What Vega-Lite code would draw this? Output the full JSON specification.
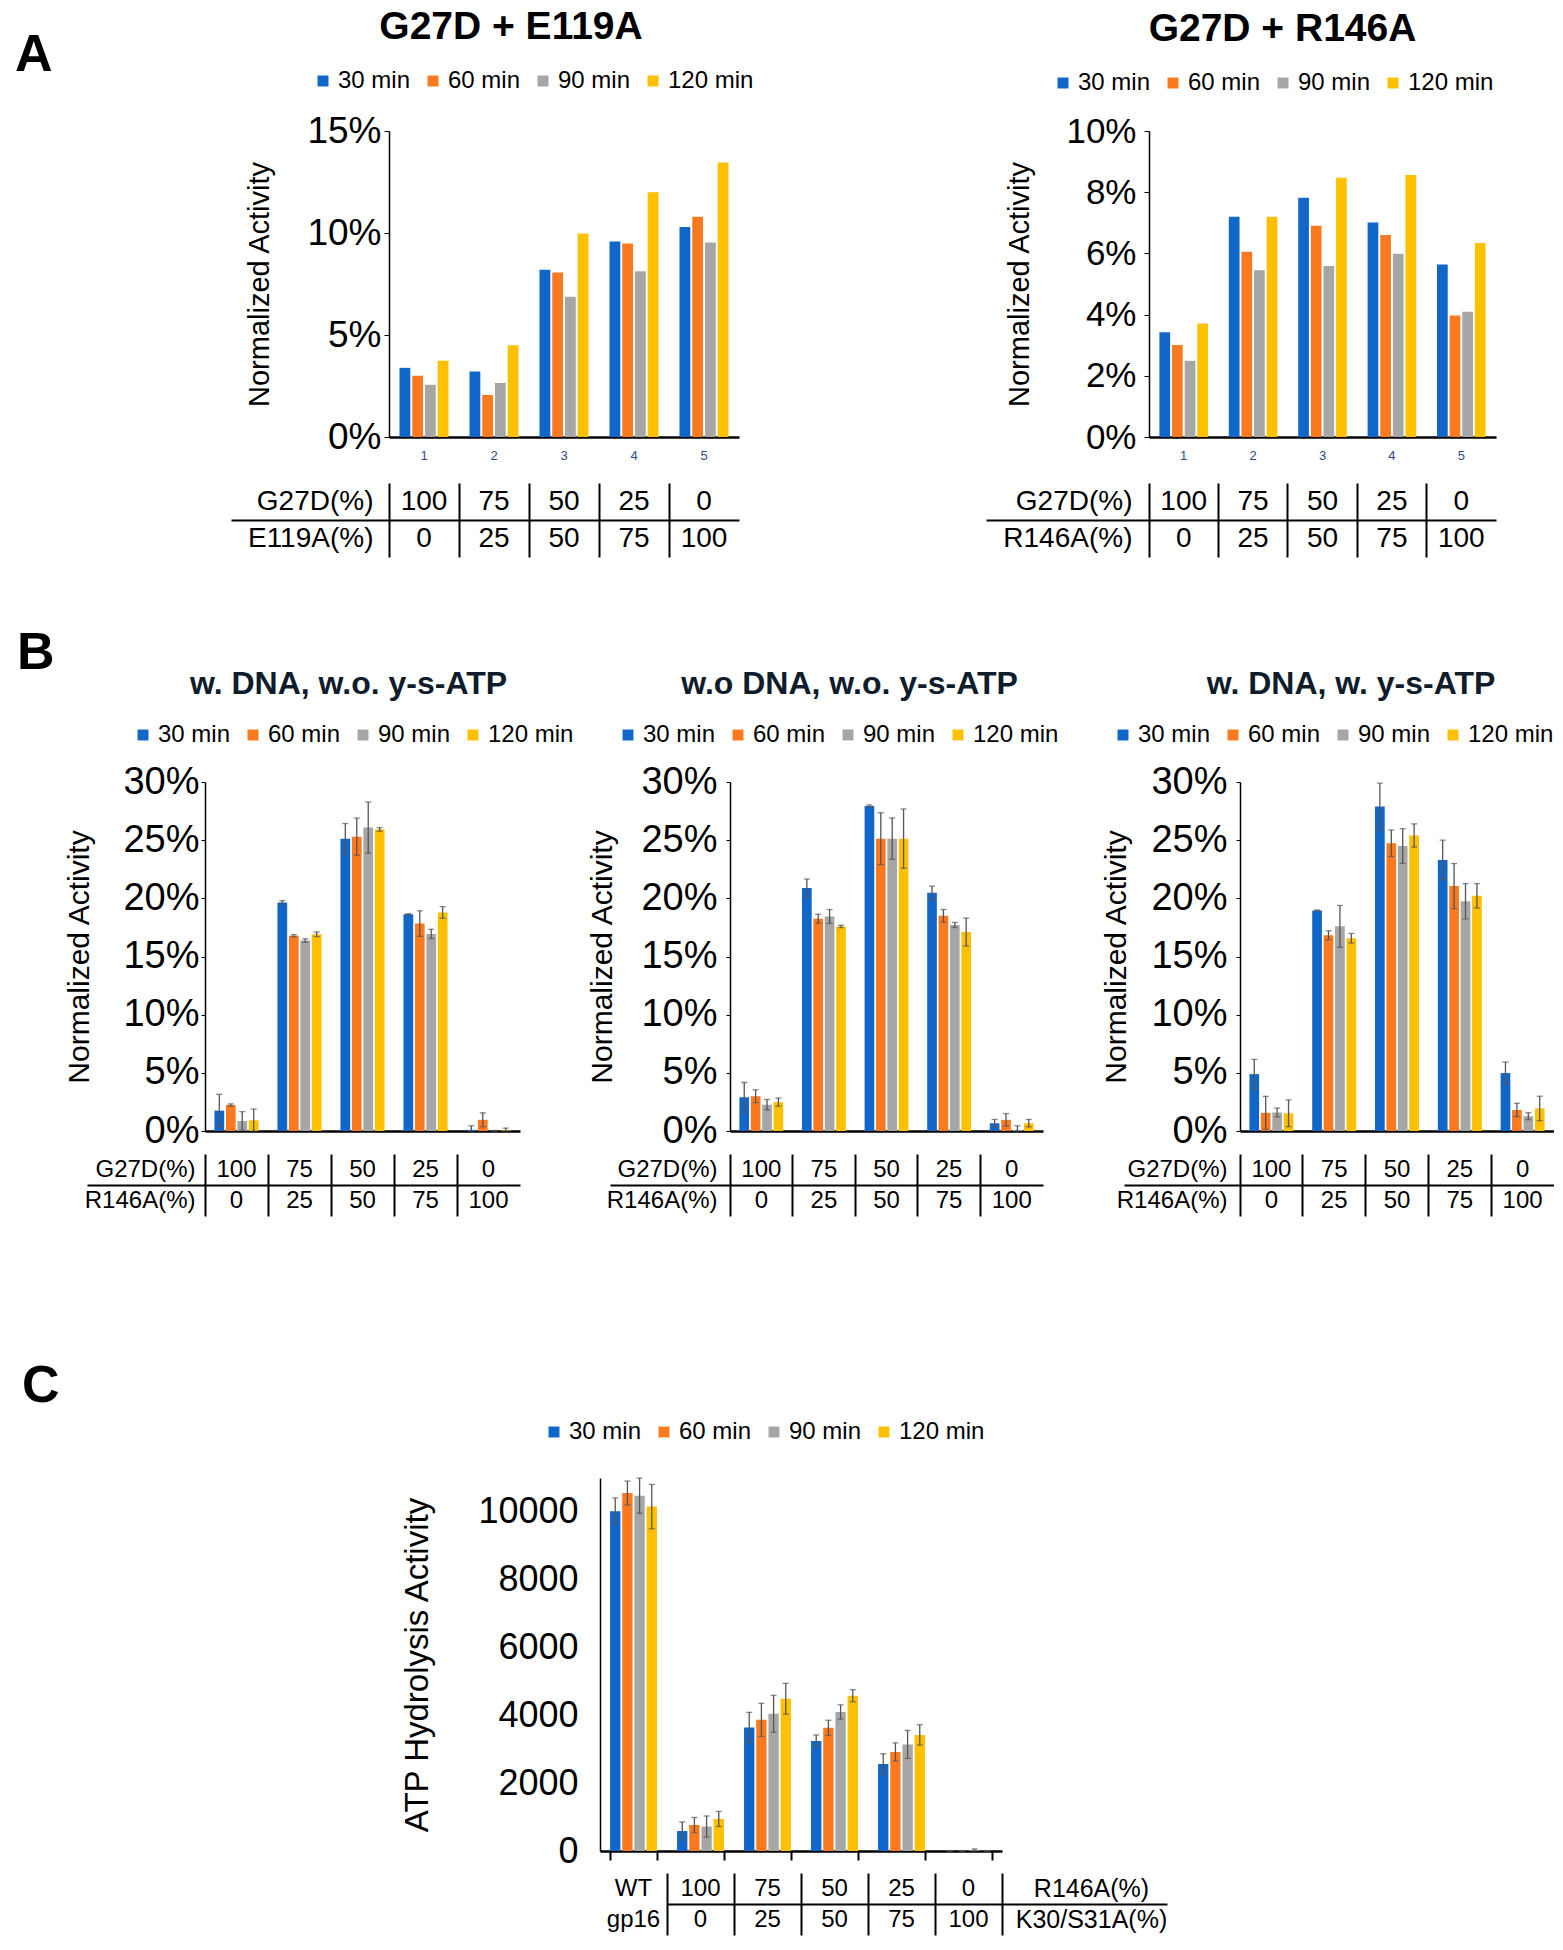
{
  "$schema": "https://vega.github.io/schema/vega-lite/v6.json",
  "background": "white",
  "padding": {"left": 15, "top": 8, "right": 0, "bottom": 5},
  "config": {
    "font": "Liberation Sans",
    "view": {"stroke": null},
    "axis": {"labelFont": "Liberation Sans", "titleFont": "Liberation Sans", "labelColor": "#000000", "titleColor": "#000000", "domainColor": "#000000", "tickColor": "#000000", "titleFontWeight": "normal", "grid": false, "labelOverlap": false},
    "legend": {"labelFont": "Liberation Sans", "labelColor": "#000000"},
    "title": {"font": "Liberation Sans", "color": "#000000"},
    "text": {"font": "Liberation Sans"}
  },
  "datasets": {
    "a1": [
      {"g": "1", "t": "30 min", "v": 0.0339}, {"g": "1", "t": "60 min", "v": 0.0300}, {"g": "1", "t": "90 min", "v": 0.0256}, {"g": "1", "t": "120 min", "v": 0.0374},
      {"g": "2", "t": "30 min", "v": 0.0321}, {"g": "2", "t": "60 min", "v": 0.0206}, {"g": "2", "t": "90 min", "v": 0.0265}, {"g": "2", "t": "120 min", "v": 0.0450},
      {"g": "3", "t": "30 min", "v": 0.0820}, {"g": "3", "t": "60 min", "v": 0.0806}, {"g": "3", "t": "90 min", "v": 0.0688}, {"g": "3", "t": "120 min", "v": 0.0997},
      {"g": "4", "t": "30 min", "v": 0.0958}, {"g": "4", "t": "60 min", "v": 0.0948}, {"g": "4", "t": "90 min", "v": 0.0812}, {"g": "4", "t": "120 min", "v": 0.1200},
      {"g": "5", "t": "30 min", "v": 0.1029}, {"g": "5", "t": "60 min", "v": 0.1080}, {"g": "5", "t": "90 min", "v": 0.0953}, {"g": "5", "t": "120 min", "v": 0.1346}
    ],
    "a2": [
      {"g": "1", "t": "30 min", "v": 0.0342}, {"g": "1", "t": "60 min", "v": 0.0301}, {"g": "1", "t": "90 min", "v": 0.0249}, {"g": "1", "t": "120 min", "v": 0.0371},
      {"g": "2", "t": "30 min", "v": 0.0720}, {"g": "2", "t": "60 min", "v": 0.0605}, {"g": "2", "t": "90 min", "v": 0.0545}, {"g": "2", "t": "120 min", "v": 0.0720},
      {"g": "3", "t": "30 min", "v": 0.0782}, {"g": "3", "t": "60 min", "v": 0.0690}, {"g": "3", "t": "90 min", "v": 0.0559}, {"g": "3", "t": "120 min", "v": 0.0847},
      {"g": "4", "t": "30 min", "v": 0.0701}, {"g": "4", "t": "60 min", "v": 0.0660}, {"g": "4", "t": "90 min", "v": 0.0599}, {"g": "4", "t": "120 min", "v": 0.0856},
      {"g": "5", "t": "30 min", "v": 0.0564}, {"g": "5", "t": "60 min", "v": 0.0397}, {"g": "5", "t": "90 min", "v": 0.0409}, {"g": "5", "t": "120 min", "v": 0.0634}
    ],
    "b1": [
      {"g": "1", "t": "30 min", "v": 0.0175, "lo": 0.0035, "hi": 0.0315}, {"g": "1", "t": "60 min", "v": 0.0223, "lo": 0.0213, "hi": 0.0233}, {"g": "1", "t": "90 min", "v": 0.0086, "lo": 0.0006, "hi": 0.0166}, {"g": "1", "t": "120 min", "v": 0.0092, "lo": 0.0, "hi": 0.0188},
      {"g": "2", "t": "30 min", "v": 0.1965, "lo": 0.1950, "hi": 0.1980}, {"g": "2", "t": "60 min", "v": 0.1678, "lo": 0.1668, "hi": 0.1688}, {"g": "2", "t": "90 min", "v": 0.1637, "lo": 0.1622, "hi": 0.1652}, {"g": "2", "t": "120 min", "v": 0.1691, "lo": 0.1671, "hi": 0.1711},
      {"g": "3", "t": "30 min", "v": 0.2513, "lo": 0.2383, "hi": 0.2643}, {"g": "3", "t": "60 min", "v": 0.2530, "lo": 0.2370, "hi": 0.2690}, {"g": "3", "t": "90 min", "v": 0.2608, "lo": 0.2388, "hi": 0.2828}, {"g": "3", "t": "120 min", "v": 0.2592, "lo": 0.2577, "hi": 0.2607},
      {"g": "4", "t": "30 min", "v": 0.1863, "lo": 0.1858, "hi": 0.1868}, {"g": "4", "t": "60 min", "v": 0.1783, "lo": 0.1673, "hi": 0.1893}, {"g": "4", "t": "90 min", "v": 0.1694, "lo": 0.1654, "hi": 0.1734}, {"g": "4", "t": "120 min", "v": 0.1879, "lo": 0.1829, "hi": 0.1929},
      {"g": "5", "t": "30 min", "v": 0.0010, "lo": 0.0, "hi": 0.0045}, {"g": "5", "t": "60 min", "v": 0.0096, "lo": 0.0036, "hi": 0.0156}, {"g": "5", "t": "90 min", "v": 0.0, "lo": 0.0, "hi": 0.0005}, {"g": "5", "t": "120 min", "v": 0.0005, "lo": 0.0, "hi": 0.0025}
    ],
    "b2": [
      {"g": "1", "t": "30 min", "v": 0.0290, "lo": 0.0163, "hi": 0.0417}, {"g": "1", "t": "60 min", "v": 0.0299, "lo": 0.0244, "hi": 0.0354}, {"g": "1", "t": "90 min", "v": 0.0226, "lo": 0.0181, "hi": 0.0271}, {"g": "1", "t": "120 min", "v": 0.0248, "lo": 0.0213, "hi": 0.0283},
      {"g": "2", "t": "30 min", "v": 0.2089, "lo": 0.2012, "hi": 0.2166}, {"g": "2", "t": "60 min", "v": 0.1825, "lo": 0.1787, "hi": 0.1863}, {"g": "2", "t": "90 min", "v": 0.1844, "lo": 0.1784, "hi": 0.1904}, {"g": "2", "t": "120 min", "v": 0.1758, "lo": 0.1748, "hi": 0.1768},
      {"g": "3", "t": "30 min", "v": 0.2793, "lo": 0.2783, "hi": 0.2803}, {"g": "3", "t": "60 min", "v": 0.2513, "lo": 0.2290, "hi": 0.2736}, {"g": "3", "t": "90 min", "v": 0.2513, "lo": 0.2335, "hi": 0.2691}, {"g": "3", "t": "120 min", "v": 0.2513, "lo": 0.2258, "hi": 0.2768},
      {"g": "4", "t": "30 min", "v": 0.2048, "lo": 0.1991, "hi": 0.2105}, {"g": "4", "t": "60 min", "v": 0.1850, "lo": 0.1796, "hi": 0.1904}, {"g": "4", "t": "90 min", "v": 0.1771, "lo": 0.1749, "hi": 0.1793}, {"g": "4", "t": "120 min", "v": 0.1710, "lo": 0.1590, "hi": 0.1830},
      {"g": "5", "t": "30 min", "v": 0.0067, "lo": 0.0035, "hi": 0.0099}, {"g": "5", "t": "60 min", "v": 0.0096, "lo": 0.0042, "hi": 0.0150}, {"g": "5", "t": "90 min", "v": 0.0010, "lo": 0.0, "hi": 0.0045}, {"g": "5", "t": "120 min", "v": 0.0067, "lo": 0.0035, "hi": 0.0099}
    ],
    "b3": [
      {"g": "1", "t": "30 min", "v": 0.0489, "lo": 0.0362, "hi": 0.0616}, {"g": "1", "t": "60 min", "v": 0.0156, "lo": 0.0014, "hi": 0.0298}, {"g": "1", "t": "90 min", "v": 0.0159, "lo": 0.0121, "hi": 0.0197}, {"g": "1", "t": "120 min", "v": 0.0152, "lo": 0.0037, "hi": 0.0267},
      {"g": "2", "t": "30 min", "v": 0.1895, "lo": 0.1890, "hi": 0.1900}, {"g": "2", "t": "60 min", "v": 0.1683, "lo": 0.1645, "hi": 0.1721}, {"g": "2", "t": "90 min", "v": 0.1759, "lo": 0.1579, "hi": 0.1939}, {"g": "2", "t": "120 min", "v": 0.1657, "lo": 0.1616, "hi": 0.1698},
      {"g": "3", "t": "30 min", "v": 0.2790, "lo": 0.2590, "hi": 0.2990}, {"g": "3", "t": "60 min", "v": 0.2473, "lo": 0.2359, "hi": 0.2587}, {"g": "3", "t": "90 min", "v": 0.2450, "lo": 0.2301, "hi": 0.2599}, {"g": "3", "t": "120 min", "v": 0.2540, "lo": 0.2440, "hi": 0.2640},
      {"g": "4", "t": "30 min", "v": 0.2330, "lo": 0.2160, "hi": 0.2500}, {"g": "4", "t": "60 min", "v": 0.2105, "lo": 0.1911, "hi": 0.2299}, {"g": "4", "t": "90 min", "v": 0.1975, "lo": 0.1823, "hi": 0.2127}, {"g": "4", "t": "120 min", "v": 0.2022, "lo": 0.1917, "hi": 0.2127},
      {"g": "5", "t": "30 min", "v": 0.0498, "lo": 0.0403, "hi": 0.0593}, {"g": "5", "t": "60 min", "v": 0.0181, "lo": 0.0124, "hi": 0.0238}, {"g": "5", "t": "90 min", "v": 0.0127, "lo": 0.0097, "hi": 0.0157}, {"g": "5", "t": "120 min", "v": 0.0194, "lo": 0.0089, "hi": 0.0299}
    ],
    "c": [
      {"g": "WT", "t": "30 min", "v": 10022, "lo": 9632, "hi": 10412}, {"g": "WT", "t": "60 min", "v": 10556, "lo": 10201, "hi": 10911}, {"g": "WT", "t": "90 min", "v": 10478, "lo": 9958, "hi": 10998}, {"g": "WT", "t": "120 min", "v": 10156, "lo": 9501, "hi": 10811},
      {"g": "100", "t": "30 min", "v": 589, "lo": 322, "hi": 856}, {"g": "100", "t": "60 min", "v": 767, "lo": 545, "hi": 989}, {"g": "100", "t": "90 min", "v": 722, "lo": 411, "hi": 1033}, {"g": "100", "t": "120 min", "v": 944, "lo": 722, "hi": 1166},
      {"g": "75", "t": "30 min", "v": 3644, "lo": 3199, "hi": 4089}, {"g": "75", "t": "60 min", "v": 3867, "lo": 3378, "hi": 4356}, {"g": "75", "t": "90 min", "v": 4044, "lo": 3499, "hi": 4589}, {"g": "75", "t": "120 min", "v": 4489, "lo": 4034, "hi": 4944},
      {"g": "50", "t": "30 min", "v": 3244, "lo": 3066, "hi": 3422}, {"g": "50", "t": "60 min", "v": 3633, "lo": 3411, "hi": 3855}, {"g": "50", "t": "90 min", "v": 4100, "lo": 3889, "hi": 4311}, {"g": "50", "t": "120 min", "v": 4578, "lo": 4400, "hi": 4756},
      {"g": "25", "t": "30 min", "v": 2567, "lo": 2267, "hi": 2867}, {"g": "25", "t": "60 min", "v": 2922, "lo": 2655, "hi": 3189}, {"g": "25", "t": "90 min", "v": 3144, "lo": 2732, "hi": 3556}, {"g": "25", "t": "120 min", "v": 3422, "lo": 3122, "hi": 3722},
      {"g": "0", "t": "30 min", "v": 0, "lo": 0, "hi": 0}, {"g": "0", "t": "60 min", "v": 0, "lo": 0, "hi": 0}, {"g": "0", "t": "90 min", "v": 20, "lo": 0, "hi": 60}, {"g": "0", "t": "120 min", "v": 0, "lo": 0, "hi": 0}
    ],
    "tA1": [
      {"g": "1", "r": "G27D(%)", "s": "100"}, {"g": "1", "r": "E119A(%)", "s": "0"},
      {"g": "2", "r": "G27D(%)", "s": "75"}, {"g": "2", "r": "E119A(%)", "s": "25"},
      {"g": "3", "r": "G27D(%)", "s": "50"}, {"g": "3", "r": "E119A(%)", "s": "50"},
      {"g": "4", "r": "G27D(%)", "s": "25"}, {"g": "4", "r": "E119A(%)", "s": "75"},
      {"g": "5", "r": "G27D(%)", "s": "0"}, {"g": "5", "r": "E119A(%)", "s": "100"}
    ],
    "tB": [
      {"g": "1", "r": "G27D(%)", "s": "100"}, {"g": "1", "r": "R146A(%)", "s": "0"},
      {"g": "2", "r": "G27D(%)", "s": "75"}, {"g": "2", "r": "R146A(%)", "s": "25"},
      {"g": "3", "r": "G27D(%)", "s": "50"}, {"g": "3", "r": "R146A(%)", "s": "50"},
      {"g": "4", "r": "G27D(%)", "s": "25"}, {"g": "4", "r": "R146A(%)", "s": "75"},
      {"g": "5", "r": "G27D(%)", "s": "0"}, {"g": "5", "r": "R146A(%)", "s": "100"}
    ],
    "tC": [
      {"g": "WT", "r": "R146A(%)", "s": "WT"}, {"g": "WT", "r": "K30/S31A(%)", "s": "gp16"},
      {"g": "100", "r": "R146A(%)", "s": "100"}, {"g": "100", "r": "K30/S31A(%)", "s": "0"},
      {"g": "75", "r": "R146A(%)", "s": "75"}, {"g": "75", "r": "K30/S31A(%)", "s": "25"},
      {"g": "50", "r": "R146A(%)", "s": "50"}, {"g": "50", "r": "K30/S31A(%)", "s": "50"},
      {"g": "25", "r": "R146A(%)", "s": "25"}, {"g": "25", "r": "K30/S31A(%)", "s": "75"},
      {"g": "0", "r": "R146A(%)", "s": "0"}, {"g": "0", "r": "K30/S31A(%)", "s": "100"}
    ]
  },
  "resolve": {"scale": {"color": "independent", "xOffset": "independent"}, "legend": {"color": "independent"}},
  "spacing": 144,
  "vconcat": [
    {
      "resolve": {"scale": {"color": "independent", "xOffset": "independent"}, "legend": {"color": "independent"}},
      "spacing": 70,
      "vconcat": [
        {
          "resolve": {"scale": {"color": "independent", "xOffset": "independent"}, "legend": {"color": "independent"}},
          "spacing": 175,
          "hconcat": [
            {"width": 40, "height": 10, "data": {"values": [{"k": 1}]}, "mark": {"type": "point", "opacity": 0}, "encoding": {},
             "title": {"text": "A", "fontSize": 52, "fontWeight": "bold", "anchor": "start", "frame": "group", "offset": 49, "color": "#000000"}},
            {
              "resolve": {"scale": {"color": "independent", "xOffset": "independent"}, "legend": {"color": "independent"}},
              "spacing": 231,
              "hconcat": [
                {
                  "resolve": {"scale": {"color": "independent", "xOffset": "independent"}, "legend": {"color": "independent"}},
                  "spacing": 21,
                  "vconcat": [
                    {
                      "width": 350, "height": 306,
                      "title": {"text": "G27D + E119A", "fontSize": 39, "fontWeight": "bold", "frame": "group", "anchor": "middle", "dx": -53, "offset": 22, "color": "#000000"},
                      "data": {"name": "a1"},
                      "mark": {"type": "bar"},
                      "encoding": {
                        "x": {"field": "g", "type": "nominal", "sort": null, "scale": {"paddingInner": 0.3, "paddingOuter": 0.15}, "axis": {"title": null, "labelAngle": 0, "labelFontSize": 13, "labelColor": "#2d4a86", "labelPadding": 12, "ticks": false, "domainWidth": 2.5}},
                        "xOffset": {"field": "t", "type": "nominal", "sort": null, "scale": {"paddingInner": 0.15}},
                        "y": {"field": "v", "type": "quantitative", "scale": {"domain": [0, 0.15], "nice": false}, "axis": {"title": "Normalized Activity", "format": ".0%", "values": [0, 0.05, 0.1, 0.15], "labelFontSize": 37, "labelPadding": 3, "tickSize": 5, "domainWidth": 1.5, "titleFontSize": 29, "titlePadding": 32}},
                        "color": {"field": "t", "type": "nominal", "sort": null, "scale": {"domain": ["30 min", "60 min", "90 min", "120 min"], "range": ["#1167C9", "#FB7A20", "#A6A6A6", "#FFC000"]},
                          "legend": {"orient": "none", "legendX": -78, "legendY": -62, "direction": "horizontal", "title": null, "symbolType": "square", "symbolSize": 120, "labelFontSize": 24, "labelOffset": 3, "columnPadding": 10}}
                      }
                    },
                    {
                      "width": 350, "height": 74,
                      "data": {"name": "tA1"},
                      "mark": {"type": "text", "fontSize": 28, "color": "#000000"},
                      "encoding": {
                        "x": {"field": "g", "type": "nominal", "sort": null, "scale": {"type": "band", "paddingInner": 0, "paddingOuter": 0}, "axis": {"title": null, "labels": false, "ticks": false, "domain": false, "grid": true, "gridColor": "#000000", "gridWidth": 2, "bandPosition": 0}},
                        "y": {"field": "r", "type": "nominal", "sort": null, "scale": {"type": "band", "paddingInner": 0, "paddingOuter": 0},
                          "axis": {"title": null, "domain": false, "ticks": true, "tickSize": 158, "tickWidth": 2, "tickColor": "#000000",
                            "tickOpacity": {"condition": {"test": "datum.value === 'E119A(%)'", "value": 1}, "value": 0},
                            "grid": true, "gridColor": "#000000", "gridWidth": 2,
                            "gridOpacity": {"condition": {"test": "datum.value === 'E119A(%)'", "value": 1}, "value": 0},
                            "bandPosition": 0, "labelPadding": -142, "labelFontSize": 28}},
                        "text": {"field": "s"}
                      }
                    }
                  ]
                },
                {
                  "resolve": {"scale": {"color": "independent", "xOffset": "independent"}, "legend": {"color": "independent"}},
                  "spacing": 21,
                  "vconcat": [
                    {
                      "width": 347, "height": 306,
                      "title": {"text": "G27D + R146A", "fontSize": 39, "fontWeight": "bold", "frame": "group", "anchor": "middle", "dx": -40, "offset": 22, "color": "#000000"},
                      "data": {"name": "a2"},
                      "mark": {"type": "bar"},
                      "encoding": {
                        "x": {"field": "g", "type": "nominal", "sort": null, "scale": {"paddingInner": 0.3, "paddingOuter": 0.15}, "axis": {"title": null, "labelAngle": 0, "labelFontSize": 13, "labelColor": "#2d4a86", "labelPadding": 12, "ticks": false, "domainWidth": 2.5}},
                        "xOffset": {"field": "t", "type": "nominal", "sort": null, "scale": {"paddingInner": 0.15}},
                        "y": {"field": "v", "type": "quantitative", "scale": {"domain": [0, 0.10], "nice": false}, "axis": {"title": "Normalized Activity", "format": ".0%", "values": [0, 0.02, 0.04, 0.06, 0.08, 0.10], "labelFontSize": 35, "labelPadding": 8, "tickSize": 5, "domainWidth": 1.5, "titleFontSize": 29, "titlePadding": 31}},
                        "color": {"field": "t", "type": "nominal", "sort": null, "scale": {"domain": ["30 min", "60 min", "90 min", "120 min"], "range": ["#1167C9", "#FB7A20", "#A6A6A6", "#FFC000"]},
                          "legend": {"orient": "none", "legendX": -98, "legendY": -60, "direction": "horizontal", "title": null, "symbolType": "square", "symbolSize": 120, "labelFontSize": 24, "labelOffset": 3, "columnPadding": 10}}
                      }
                    },
                    {
                      "width": 347, "height": 74,
                      "data": {"name": "tB"},
                      "mark": {"type": "text", "fontSize": 28, "color": "#000000"},
                      "encoding": {
                        "x": {"field": "g", "type": "nominal", "sort": null, "scale": {"type": "band", "paddingInner": 0, "paddingOuter": 0}, "axis": {"title": null, "labels": false, "ticks": false, "domain": false, "grid": true, "gridColor": "#000000", "gridWidth": 2, "bandPosition": 0}},
                        "y": {"field": "r", "type": "nominal", "sort": null, "scale": {"type": "band", "paddingInner": 0, "paddingOuter": 0},
                          "axis": {"title": null, "domain": false, "ticks": true, "tickSize": 163, "tickWidth": 2, "tickColor": "#000000",
                            "tickOpacity": {"condition": {"test": "datum.value === 'R146A(%)'", "value": 1}, "value": 0},
                            "grid": true, "gridColor": "#000000", "gridWidth": 2,
                            "gridOpacity": {"condition": {"test": "datum.value === 'R146A(%)'", "value": 1}, "value": 0},
                            "bandPosition": 0, "labelPadding": -146, "labelFontSize": 28}},
                        "text": {"field": "s"}
                      }
                    }
                  ]
                }
              ]
            }
          ]
        },
        {
          "resolve": {"scale": {"color": "independent", "xOffset": "independent"}, "legend": {"color": "independent"}},
          "spacing": 9,
          "hconcat": [
            {"width": 40, "height": 10, "data": {"values": [{"k": 1}]}, "mark": {"type": "point", "opacity": 0}, "encoding": {},
             "title": {"text": "B", "fontSize": 52, "fontWeight": "bold", "anchor": "start", "frame": "group", "offset": 102, "dx": 2, "color": "#000000"}},
            {
              "resolve": {"scale": {"color": "independent", "xOffset": "independent"}, "legend": {"color": "independent"}},
              "spacing": 13,
              "hconcat": [
                {
                  "resolve": {"scale": {"color": "independent", "xOffset": "independent"}, "legend": {"color": "independent"}},
                  "spacing": 4,
                  "vconcat": [
                    {
                      "width": 315, "height": 349,
                      "title": {"text": "w. DNA, w.o. y-s-ATP", "fontSize": 32, "fontWeight": "bold", "frame": "group", "anchor": "middle", "dx": -14, "offset": 22, "color": "#0e1c2b"},
                      "data": {"name": "b1"},
                      "encoding": {
                        "x": {"field": "g", "type": "nominal", "sort": null, "scale": {"type": "band", "paddingInner": 0.3, "paddingOuter": 0.15}, "axis": {"title": null, "labels": false, "ticks": false, "domainWidth": 2.5}},
                        "xOffset": {"field": "t", "type": "nominal", "sort": null, "scale": {"type": "band", "paddingInner": 0.15}}
                      },
                      "layer": [
                        {"mark": {"type": "bar"},
                         "encoding": {
                           "y": {"field": "v", "type": "quantitative", "scale": {"domain": [0, 0.30], "nice": false}, "axis": {"title": "Normalized Activity", "format": ".0%", "values": [0, 0.05, 0.1, 0.15, 0.2, 0.25, 0.3], "labelFontSize": 38, "labelPadding": 2, "tickSize": 4, "domainWidth": 1.5, "titleFontSize": 30, "titlePadding": 28}},
                           "color": {"field": "t", "type": "nominal", "sort": null, "scale": {"domain": ["30 min", "60 min", "90 min", "120 min"], "range": ["#1167C9", "#FB7A20", "#A6A6A6", "#FFC000"]},
                             "legend": {"orient": "none", "legendX": -74, "legendY": -59, "direction": "horizontal", "title": null, "symbolType": "square", "symbolSize": 120, "labelFontSize": 24, "labelOffset": 3, "columnPadding": 10}}
                         }},
                        {"mark": {"type": "rule", "color": "#555555", "strokeWidth": 1.3},
                         "encoding": {"y": {"field": "lo", "type": "quantitative"}, "y2": {"field": "hi"}}},
                        {"mark": {"type": "tick", "orient": "horizontal", "color": "#555555", "size": 6, "thickness": 1.3},
                         "encoding": {"y": {"field": "hi", "type": "quantitative"}}},
                        {"mark": {"type": "tick", "orient": "horizontal", "color": "#555555", "size": 6, "thickness": 1.3},
                         "encoding": {"y": {"field": "lo", "type": "quantitative"}}}
                      ]
                    },
                    {
                      "width": 315, "height": 62,
                      "data": {"name": "tB"},
                      "mark": {"type": "text", "fontSize": 24, "color": "#000000"},
                      "encoding": {
                        "x": {"field": "g", "type": "nominal", "sort": null, "scale": {"type": "band", "paddingInner": 0, "paddingOuter": 0}, "axis": {"title": null, "labels": false, "ticks": false, "domain": false, "grid": true, "gridColor": "#000000", "gridWidth": 2, "bandPosition": 0}},
                        "y": {"field": "r", "type": "nominal", "sort": null, "scale": {"type": "band", "paddingInner": 0, "paddingOuter": 0},
                          "axis": {"title": null, "domain": false, "ticks": true, "tickSize": 118, "tickWidth": 2, "tickColor": "#000000",
                            "tickOpacity": {"condition": {"test": "datum.value === 'R146A(%)'", "value": 1}, "value": 0},
                            "grid": true, "gridColor": "#000000", "gridWidth": 2,
                            "gridOpacity": {"condition": {"test": "datum.value === 'R146A(%)'", "value": 1}, "value": 0},
                            "bandPosition": 0, "labelPadding": -108, "labelFontSize": 24}},
                        "text": {"field": "s"}
                      }
                    }
                  ]
                },
                {
                  "resolve": {"scale": {"color": "independent", "xOffset": "independent"}, "legend": {"color": "independent"}},
                  "spacing": 42,
                  "hconcat": [
                    {
                      "resolve": {"scale": {"color": "independent", "xOffset": "independent"}, "legend": {"color": "independent"}},
                      "spacing": 4,
                      "vconcat": [
                        {
                          "width": 313, "height": 349,
                          "title": {"text": "w.o DNA, w.o. y-s-ATP", "fontSize": 32, "fontWeight": "bold", "frame": "group", "anchor": "middle", "dx": -37, "offset": 22, "color": "#0e1c2b"},
                          "data": {"name": "b2"},
                          "encoding": {
                            "x": {"field": "g", "type": "nominal", "sort": null, "scale": {"type": "band", "paddingInner": 0.3, "paddingOuter": 0.15}, "axis": {"title": null, "labels": false, "ticks": false, "domainWidth": 2.5}},
                            "xOffset": {"field": "t", "type": "nominal", "sort": null, "scale": {"type": "band", "paddingInner": 0.15}}
                          },
                          "layer": [
                            {"mark": {"type": "bar"},
                             "encoding": {
                               "y": {"field": "v", "type": "quantitative", "scale": {"domain": [0, 0.30], "nice": false}, "axis": {"title": "Normalized Activity", "format": ".0%", "values": [0, 0.05, 0.1, 0.15, 0.2, 0.25, 0.3], "labelFontSize": 38, "labelPadding": 9, "tickSize": 4, "domainWidth": 1.5, "titleFontSize": 30, "titlePadding": 23}},
                               "color": {"field": "t", "type": "nominal", "sort": null, "scale": {"domain": ["30 min", "60 min", "90 min", "120 min"], "range": ["#1167C9", "#FB7A20", "#A6A6A6", "#FFC000"]},
                                 "legend": {"orient": "none", "legendX": -114, "legendY": -59, "direction": "horizontal", "title": null, "symbolType": "square", "symbolSize": 120, "labelFontSize": 24, "labelOffset": 3, "columnPadding": 10}}
                             }},
                            {"mark": {"type": "rule", "color": "#555555", "strokeWidth": 1.3},
                             "encoding": {"y": {"field": "lo", "type": "quantitative"}, "y2": {"field": "hi"}}},
                            {"mark": {"type": "tick", "orient": "horizontal", "color": "#555555", "size": 6, "thickness": 1.3},
                             "encoding": {"y": {"field": "hi", "type": "quantitative"}}},
                            {"mark": {"type": "tick", "orient": "horizontal", "color": "#555555", "size": 6, "thickness": 1.3},
                             "encoding": {"y": {"field": "lo", "type": "quantitative"}}}
                          ]
                        },
                        {
                          "width": 313, "height": 62,
                          "data": {"name": "tB"},
                          "mark": {"type": "text", "fontSize": 24, "color": "#000000"},
                          "encoding": {
                            "x": {"field": "g", "type": "nominal", "sort": null, "scale": {"type": "band", "paddingInner": 0, "paddingOuter": 0}, "axis": {"title": null, "labels": false, "ticks": false, "domain": false, "grid": true, "gridColor": "#000000", "gridWidth": 2, "bandPosition": 0}},
                            "y": {"field": "r", "type": "nominal", "sort": null, "scale": {"type": "band", "paddingInner": 0, "paddingOuter": 0},
                              "axis": {"title": null, "domain": false, "ticks": true, "tickSize": 120, "tickWidth": 2, "tickColor": "#000000",
                                "tickOpacity": {"condition": {"test": "datum.value === 'R146A(%)'", "value": 1}, "value": 0},
                                "grid": true, "gridColor": "#000000", "gridWidth": 2,
                                "gridOpacity": {"condition": {"test": "datum.value === 'R146A(%)'", "value": 1}, "value": 0},
                                "bandPosition": 0, "labelPadding": -107, "labelFontSize": 24}},
                            "text": {"field": "s"}
                          }
                        }
                      ]
                    },
                    {
                      "resolve": {"scale": {"color": "independent", "xOffset": "independent"}, "legend": {"color": "independent"}},
                      "spacing": 4,
                      "vconcat": [
                        {
                          "width": 314, "height": 349,
                          "title": {"text": "w. DNA, w. y-s-ATP", "fontSize": 32, "fontWeight": "bold", "frame": "group", "anchor": "middle", "dx": -46, "offset": 22, "color": "#0e1c2b"},
                          "data": {"name": "b3"},
                          "encoding": {
                            "x": {"field": "g", "type": "nominal", "sort": null, "scale": {"type": "band", "paddingInner": 0.3, "paddingOuter": 0.15}, "axis": {"title": null, "labels": false, "ticks": false, "domainWidth": 2.5}},
                            "xOffset": {"field": "t", "type": "nominal", "sort": null, "scale": {"type": "band", "paddingInner": 0.15}}
                          },
                          "layer": [
                            {"mark": {"type": "bar"},
                             "encoding": {
                               "y": {"field": "v", "type": "quantitative", "scale": {"domain": [0, 0.30], "nice": false}, "axis": {"title": "Normalized Activity", "format": ".0%", "values": [0, 0.05, 0.1, 0.15, 0.2, 0.25, 0.3], "labelFontSize": 38, "labelPadding": 9, "tickSize": 4, "domainWidth": 1.5, "titleFontSize": 30, "titlePadding": 19}},
                               "color": {"field": "t", "type": "nominal", "sort": null, "scale": {"domain": ["30 min", "60 min", "90 min", "120 min"], "range": ["#1167C9", "#FB7A20", "#A6A6A6", "#FFC000"]},
                                 "legend": {"orient": "none", "legendX": -129, "legendY": -59, "direction": "horizontal", "title": null, "symbolType": "square", "symbolSize": 120, "labelFontSize": 24, "labelOffset": 3, "columnPadding": 10}}
                             }},
                            {"mark": {"type": "rule", "color": "#555555", "strokeWidth": 1.3},
                             "encoding": {"y": {"field": "lo", "type": "quantitative"}, "y2": {"field": "hi"}}},
                            {"mark": {"type": "tick", "orient": "horizontal", "color": "#555555", "size": 6, "thickness": 1.3},
                             "encoding": {"y": {"field": "hi", "type": "quantitative"}}},
                            {"mark": {"type": "tick", "orient": "horizontal", "color": "#555555", "size": 6, "thickness": 1.3},
                             "encoding": {"y": {"field": "lo", "type": "quantitative"}}}
                          ]
                        },
                        {
                          "width": 314, "height": 62,
                          "data": {"name": "tB"},
                          "mark": {"type": "text", "fontSize": 24, "color": "#000000"},
                          "encoding": {
                            "x": {"field": "g", "type": "nominal", "sort": null, "scale": {"type": "band", "paddingInner": 0, "paddingOuter": 0}, "axis": {"title": null, "labels": false, "ticks": false, "domain": false, "grid": true, "gridColor": "#000000", "gridWidth": 2, "bandPosition": 0}},
                            "y": {"field": "r", "type": "nominal", "sort": null, "scale": {"type": "band", "paddingInner": 0, "paddingOuter": 0},
                              "axis": {"title": null, "domain": false, "ticks": true, "tickSize": 116, "tickWidth": 2, "tickColor": "#000000",
                                "tickOpacity": {"condition": {"test": "datum.value === 'R146A(%)'", "value": 1}, "value": 0},
                                "grid": true, "gridColor": "#000000", "gridWidth": 2,
                                "gridOpacity": {"condition": {"test": "datum.value === 'R146A(%)'", "value": 1}, "value": 0},
                                "bandPosition": 0, "labelPadding": -103, "labelFontSize": 24}},
                            "text": {"field": "s"}
                          }
                        }
                      ]
                    }
                  ]
                }
              ]
            }
          ]
        }
      ]
    },
    {
      "resolve": {"scale": {"color": "independent", "xOffset": "independent"}, "legend": {"color": "independent"}},
      "spacing": 341,
      "hconcat": [
        {"width": 40, "height": 10, "data": {"values": [{"k": 1}]}, "mark": {"type": "point", "opacity": 0}, "encoding": {},
         "title": {"text": "C", "fontSize": 52, "fontWeight": "bold", "anchor": "start", "frame": "group", "offset": 65, "dx": 7, "color": "#000000"}},
        {
          "resolve": {"scale": {"color": "independent", "xOffset": "independent"}, "legend": {"color": "independent"}},
          "spacing": 4,
          "vconcat": [
            {
              "width": 402, "height": 373,
              "data": {"name": "c"},
              "encoding": {
                "x": {"field": "g", "type": "nominal", "sort": null, "scale": {"type": "band", "paddingInner": 0.3, "paddingOuter": 0.15}, "axis": {"title": null, "labels": false, "ticks": true, "tickBand": "extent", "tickSize": 9, "tickWidth": 2, "domainWidth": 2.5}},
                "xOffset": {"field": "t", "type": "nominal", "sort": null, "scale": {"type": "band", "paddingInner": 0.15}}
              },
              "layer": [
                {"mark": {"type": "bar"},
                 "encoding": {
                   "y": {"field": "v", "type": "quantitative", "scale": {"domain": [0, 11000], "nice": false}, "axis": {"title": "ATP Hydrolysis Activity", "format": "d", "values": [0, 2000, 4000, 6000, 8000, 10000], "labelFontSize": 36, "labelPadding": 22, "ticks": false, "domainWidth": 1.5, "titleFontSize": 33, "titlePadding": 43}},
                   "color": {"field": "t", "type": "nominal", "sort": null, "scale": {"domain": ["30 min", "60 min", "90 min", "120 min"], "range": ["#1167C9", "#FB7A20", "#A6A6A6", "#FFC000"]},
                     "legend": {"orient": "none", "legendX": -58, "legendY": -58, "direction": "horizontal", "title": null, "symbolType": "square", "symbolSize": 120, "labelFontSize": 24, "labelOffset": 3, "columnPadding": 10}}
                 }},
                {"mark": {"type": "rule", "color": "#555555", "strokeWidth": 1.3},
                 "encoding": {"y": {"field": "lo", "type": "quantitative"}, "y2": {"field": "hi"}}},
                {"mark": {"type": "tick", "orient": "horizontal", "color": "#555555", "size": 6, "thickness": 1.3},
                 "encoding": {"y": {"field": "hi", "type": "quantitative"}}},
                {"mark": {"type": "tick", "orient": "horizontal", "color": "#555555", "size": 6, "thickness": 1.3},
                 "encoding": {"y": {"field": "lo", "type": "quantitative"}}}
              ]
            },
            {
              "width": 402, "height": 62,
              "data": {"name": "tC"},
              "mark": {"type": "text", "fontSize": 24, "color": "#000000"},
              "encoding": {
                "x": {"field": "g", "type": "nominal", "sort": null, "scale": {"type": "band", "paddingInner": 0, "paddingOuter": 0}, "axis": {"title": null, "labels": false, "ticks": false, "domain": false, "grid": true, "gridColor": "#000000", "gridWidth": 2, "bandPosition": 1}},
                "y": {"field": "r", "type": "nominal", "sort": null, "scale": {"type": "band", "paddingInner": 0, "paddingOuter": 0},
                  "axis": {"orient": "right", "title": null, "domain": false, "offset": 165, "ticks": true, "tickSize": -500, "tickWidth": 2, "tickColor": "#000000",
                    "tickOpacity": {"condition": {"test": "datum.value === 'K30/S31A(%)'", "value": 1}, "value": 0},
                    "bandPosition": 0, "labelPadding": 424, "labelAlign": "center", "labelFontSize": 25}},
                "text": {"field": "s"}
              }
            }
          ]
        }
      ]
    }
  ]
}
